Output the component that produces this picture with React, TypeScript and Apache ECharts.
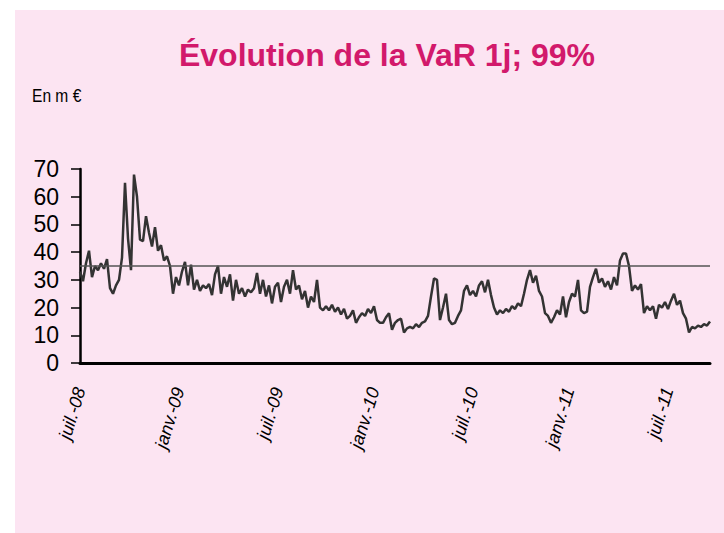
import React, { useEffect, useRef } from "react";
import * as echarts from "echarts";

const TITLE = "Évolution de la VaR 1j; 99%";
const UNIT = "En m €";
const LIMIT = 35;
const START_DATE = Date.UTC(2008, 6, 1);
const STEP_DAYS = 5.61;
const MONTH_NAMES = ["janv.", "févr.", "mars", "avr.", "mai", "juin", "juil.", "août", "sept.", "oct.", "nov.", "déc."];
const Y_MIN = 0;
const Y_MAX = 70;
const Y_STEP = 10;

const VAR_VALUES = [
  33, 29.5, 36, 40.5, 31, 35, 33.5, 36, 34, 37.5,
  27, 25, 28, 30, 38, 65, 45, 33.5, 68, 60,
  44.5, 44, 53, 47, 42, 49, 40.5, 42.5, 37, 38.5,
  35, 25, 31, 28, 33, 36.5, 28, 35.5, 26.5, 30,
  26, 28, 27, 28.5, 24.5, 32, 35, 25, 31, 27.5,
  32, 22.5, 30, 25, 27, 24, 26.5, 25.5, 27, 32.5,
  25, 30, 24, 28, 21.5, 27.5, 29, 22, 27.5, 30,
  25, 33.5, 26.5, 28, 23, 26, 20, 24, 22, 30,
  20, 19, 20.5, 19, 21, 18.5, 20, 17.5, 19.5, 16,
  17, 19, 14.5, 16.5, 18, 17, 19.5, 18, 20.5, 15.5,
  14.5, 14.5, 16.5, 18, 12, 14.5, 15.5, 16, 11, 12.5,
  13, 12.5, 14, 13, 14.5, 15, 17, 24, 30.5, 30,
  15.5, 20, 25, 15.5, 14, 14.5, 17, 19, 26, 28,
  24.5, 26, 24, 28, 29.5, 25.5, 30, 24.5, 20, 17.5,
  19, 18, 19.5, 18.5, 20.5, 19.5, 21.5, 20.5, 25, 30,
  33.5, 29, 31.5, 26, 24, 18, 17, 14.5, 16.5, 19,
  17.5, 24, 16.5, 22, 25, 24, 30, 19, 18, 18.5,
  27.5, 31, 34, 29, 30.5, 27.5, 29.5, 26.5, 31, 28,
  37, 39.5, 39.5, 35, 26, 28, 26.5, 28.5, 18, 20.5,
  19, 20.5, 16, 21, 20, 22, 19.5, 22.5, 25, 21,
  22.5, 18, 16, 11, 13, 12.5, 13.5, 13, 14, 13.5,
  15,
];

const FONT = "'Liberation Sans', Arial, sans-serif";

export default function App() {
  const ref = useRef<HTMLDivElement>(null);

  useEffect(() => {
    if (!ref.current) return;
    const chart = echarts.init(ref.current, null, { renderer: "svg" });

    const dates = VAR_VALUES.map((_, i) => new Date(START_DATE + i * STEP_DAYS * 86400000));
    const categories = dates.map((d) => d.toISOString().slice(0, 10));
    const labelIdx = new Set<number>();
    dates.forEach((d, i) => {
      const m = d.getUTCMonth();
      if ((m === 0 || m === 6) && (i === 0 || dates[i - 1].getUTCMonth() !== m)) labelIdx.add(i);
    });

    chart.setOption({
      animation: false,
      backgroundColor: "#ffffff",
      graphic: [
        {
          type: "rect",
          left: 15,
          top: 10,
          shape: { width: 709, height: 523 },
          style: { fill: "#fce4f2" },
          z: -10,
          silent: true,
        },
        {
          type: "text",
          x: 387,
          y: 39,
          style: {
            text: TITLE,
            font: `bold 32px ${FONT}`,
            fill: "#d2196b",
            textAlign: "center",
            textVerticalAlign: "top",
          },
        },
        {
          type: "text",
          x: 32,
          y: 86,
          scaleX: 0.82,
          style: {
            text: UNIT,
            font: `19px ${FONT}`,
            fill: "#000",
            textAlign: "left",
            textVerticalAlign: "top",
          },
        },
      ],
      grid: { left: 80, right: 14, top: 169, bottom: 170, containLabel: false },
      xAxis: {
        type: "category",
        data: categories,
        boundaryGap: false,
        axisLine: { show: true, lineStyle: { color: "#000", width: 3 } },
        axisTick: { show: false },
        splitLine: { show: false },
        axisLabel: {
          interval: (i: number) => labelIdx.has(i),
          formatter: (v: string) => {
            const d = new Date(v + "T00:00:00Z");
            return `${MONTH_NAMES[d.getUTCMonth()]}-${String(d.getUTCFullYear()).slice(2)}`;
          },
          rotate: 73,
          fontStyle: "italic",
          fontSize: 18,
          fontFamily: FONT,
          color: "#000",
          margin: 25,
        },
      },
      yAxis: {
        type: "value",
        min: Y_MIN,
        max: Y_MAX,
        interval: Y_STEP,
        axisLine: { show: true, lineStyle: { color: "#000", width: 2.5 } },
        axisTick: { show: true, length: 9, lineStyle: { color: "#000", width: 1.5 } },
        splitLine: { show: false },
        axisLabel: { fontSize: 23, fontFamily: FONT, color: "#000", margin: 21 },
      },
      series: [
        {
          type: "line",
          data: [],
          z: 1,
          markLine: {
            silent: true,
            symbol: "none",
            label: { show: false },
            lineStyle: { color: "#555", width: 1.5, type: "solid" },
            data: [{ yAxis: LIMIT }],
          },
        },
        {
          type: "line",
          data: VAR_VALUES,
          z: 2,
          showSymbol: false,
          symbol: "none",
          lineStyle: { color: "#333", width: 2.5 },
        },
      ],
    });

    return () => chart.dispose();
  }, []);

  return (
    <div
      ref={ref}
      style={{ position: "fixed", left: 0, top: 0, width: 724, height: 533 }}
    />
  );
}
